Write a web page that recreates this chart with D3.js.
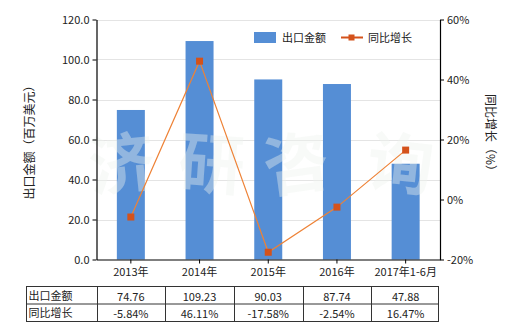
<!DOCTYPE html>
<html>
<head>
<meta charset="utf-8">
<script src="https://cdn.jsdelivr.net/npm/d3@7"></script>
<style>
  body { margin: 0; background: #fff; }
  svg text { font-family: "Noto Sans CJK SC", "DejaVu Sans", sans-serif; fill: #222; }
</style>
</head>
<body>
<div id="chart"></div>
<script>
// data
var categories = ["2013年", "2014年", "2015年", "2016年", "2017年1-6月"];
var exportValues = [74.76, 109.23, 90.03, 87.74, 47.88];
var growthRates = [-5.84, 46.11, -17.58, -2.54, 16.47];
var leftTicks = [0, 20, 40, 60, 80, 100, 120];
var rightTicks = [-20, 0, 20, 40, 60];
var rowNames = ["出口金额", "同比增长"];

var W = 520, H = 330;
// plot box (note: "top" is reserved on window, so use pL/pR/pT/pB)
var pL = 96.5, pR = 440, pT = 19.5, pB = 259.5;

var svg = d3.select("#chart").append("svg")
  .attr("width", W).attr("height", H);

var xc = d3.scaleBand().domain(categories).range([pL, pR]);
var yL = d3.scaleLinear().domain([0, 120]).range([pB, pT]);
var yR = d3.scaleLinear().domain([-20, 60]).range([pB, pT]);

// grid lines
svg.append("g").selectAll("line")
  .data(leftTicks.slice(1))
  .enter().append("line")
  .attr("x1", pL).attr("x2", pR)
  .attr("y1", function(d){ return Math.round(yL(d)) + 0.5; })
  .attr("y2", function(d){ return Math.round(yL(d)) + 0.5; })
  .attr("stroke", "#e4e4e4");

// bars
svg.append("g").selectAll("rect")
  .data(exportValues)
  .enter().append("rect")
  .attr("x", function(d, i){ return xc(categories[i]) + xc.bandwidth()/2 - 14; })
  .attr("width", 28)
  .attr("y", function(d){ return yL(d); })
  .attr("height", function(d){ return pB - yL(d); })
  .attr("fill", "#558ed5");

// watermark
var wm = ["济", "研", "咨", "询"];
var wmX = [124, 210, 300, 398];
var wmRot = [-6, 4, -8, 6];
svg.append("g").selectAll("text")
  .data(wm)
  .enter().append("text")
  .attr("transform", function(d, i){ return "translate(" + wmX[i] + ",188) rotate(" + wmRot[i] + ")"; })
  .attr("text-anchor", "middle")
  .style("font-size", "66px")
  .style("font-weight", "bold")
  .style("fill", "#eef2ee")
  .style("fill-opacity", 0.4)
  .text(function(d){ return d; });

// growth line
var line = d3.line()
  .x(function(d, i){ return xc(categories[i]) + xc.bandwidth()/2; })
  .y(function(d){ return yR(d); });
svg.append("path")
  .datum(growthRates)
  .attr("d", line)
  .attr("fill", "none")
  .attr("stroke", "#ee8236")
  .attr("stroke-width", 1.2);
svg.append("g").selectAll("rect")
  .data(growthRates)
  .enter().append("rect")
  .attr("x", function(d, i){ return xc(categories[i]) + xc.bandwidth()/2 - 3.5; })
  .attr("y", function(d){ return yR(d) - 3.5; })
  .attr("width", 7).attr("height", 7)
  .attr("fill", "#d4521b");

// axes
var axL = svg.append("g").attr("transform", "translate(" + pL + ",0)")
  .call(d3.axisLeft(yL).tickValues(leftTicks).tickSize(4).tickSizeOuter(0).tickFormat(d3.format(".1f")));
var axR = svg.append("g").attr("transform", "translate(" + pR + ",0)")
  .call(d3.axisRight(yR).tickValues(rightTicks).tickSize(4).tickSizeOuter(0).tickFormat(function(d){ return d + "%"; }));
var axB = svg.append("g").attr("transform", "translate(0," + pB + ")")
  .call(d3.axisBottom(xc).tickSize(4).tickSizeOuter(0));
[axL, axR, axB].forEach(function(a){
  a.select(".domain").attr("stroke", "#000").attr("stroke-width", 1.2);
  a.selectAll(".tick line").attr("stroke", "#000");
  a.selectAll("text").style("font-size", "11px").style("fill", "#222")
    .style("font-family", "'Noto Sans CJK SC', 'DejaVu Sans', sans-serif");
});
axB.selectAll("text").attr("dy", "0.9em");

// axis titles
svg.append("text")
  .attr("transform", "translate(34," + ((pT + pB)/2) + ") rotate(-90)")
  .attr("text-anchor", "middle")
  .style("font-size", "12px")
  .text("出口金额（百万美元）");
svg.append("text")
  .attr("transform", "translate(486," + ((pT + pB)/2 - 4) + ") rotate(90)")
  .attr("text-anchor", "middle")
  .style("font-size", "12px")
  .text("同比增长（%）");

// legend
svg.append("rect").attr("x", 254).attr("y", 32).attr("width", 22).attr("height", 11).attr("fill", "#558ed5");
svg.append("text").attr("x", 282).attr("y", 42).style("font-size", "11px").text("出口金额");
svg.append("line").attr("x1", 341).attr("x2", 363).attr("y1", 37.5).attr("y2", 37.5)
  .attr("stroke", "#d4521b").attr("stroke-width", 2);
svg.append("rect").attr("x", 348.5).attr("y", 34.5).attr("width", 6).attr("height", 6).attr("fill", "#d4521b");
svg.append("text").attr("x", 368).attr("y", 42).style("font-size", "11px").text("同比增长");

// data table
var tTop = 286.5, rowH = 17.5, tLeft = 26.5;
var tbl = svg.append("g");
var tRight = xc(categories[categories.length - 1]) + xc.bandwidth() - 1.5;
tbl.append("rect").attr("x", tLeft).attr("y", tTop).attr("width", tRight - tLeft).attr("height", rowH*2)
  .attr("fill", "none").attr("stroke", "#333");
tbl.append("line").attr("x1", tLeft).attr("x2", tRight).attr("y1", tTop + rowH).attr("y2", tTop + rowH).attr("stroke", "#333");
tbl.selectAll(".col").data(categories).enter().append("line")
  .attr("x1", function(d){ return Math.round(xc(d)) + 0.5; })
  .attr("x2", function(d){ return Math.round(xc(d)) + 0.5; })
  .attr("y1", tTop).attr("y2", tTop + rowH*2).attr("stroke", "#333");
tbl.selectAll(".rn").data(rowNames).enter().append("text")
  .attr("x", tLeft + 2).attr("y", function(d, i){ return tTop + rowH*i + 13; })
  .style("font-size", "11px").text(function(d){ return d; });
tbl.selectAll(".v1").data(exportValues).enter().append("text")
  .attr("x", function(d, i){ return xc(categories[i]) + xc.bandwidth()/2; })
  .attr("y", tTop + 14).attr("text-anchor", "middle").style("font-size", "11px")
  .text(function(d){ return d.toFixed(2); });
tbl.selectAll(".v2").data(growthRates).enter().append("text")
  .attr("x", function(d, i){ return xc(categories[i]) + xc.bandwidth()/2; })
  .attr("y", tTop + rowH + 14).attr("text-anchor", "middle").style("font-size", "11px")
  .text(function(d){ return d.toFixed(2) + "%"; });
</script>
</body>
</html>
